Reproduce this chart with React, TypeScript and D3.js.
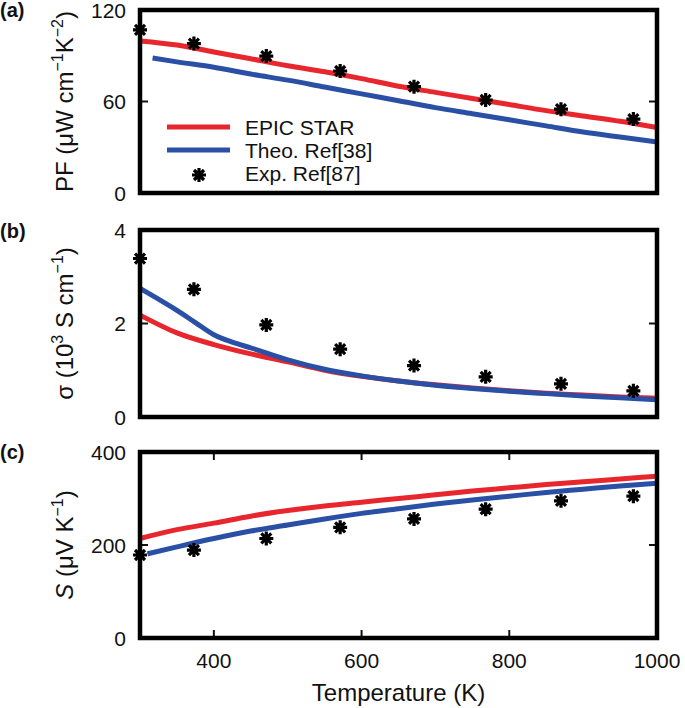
import React from "react";
import * as d3 from "d3";

// ---------- data ----------
const tempGrid = [300, 350, 400, 450, 500, 550, 600, 650, 700, 750, 800, 850, 900, 950, 1000];

// (a) power factor
const pfEpic = [99.7, 97, 92.5, 88, 83.5, 79.5, 75, 70, 66, 62, 58, 54, 50.5, 47, 43];
const pfTheoT = [317, 350, 400, 450, 500, 550, 600, 650, 700, 750, 800, 850, 900, 950, 1000];
const pfTheo = [88.5, 86, 82.5, 78, 74, 69.5, 65, 60.5, 56, 52, 48, 44, 40, 36.7, 33.5];

// (b) conductivity
const sigEpic = [2.18, 1.8, 1.55, 1.35, 1.18, 1.0, 0.87, 0.77, 0.69, 0.62, 0.56, 0.51, 0.47, 0.43, 0.4];
const sigTheoT = [300, 325, 350, 375, 400, 425, 450, 500, 550, 600, 650, 700, 750, 800, 850, 900, 950, 1000];
const sigTheo = [2.75, 2.52, 2.28, 2.02, 1.76, 1.6, 1.48, 1.22, 1.02, 0.88, 0.77, 0.68, 0.61, 0.55, 0.5, 0.45, 0.41, 0.37];

// (c) Seebeck
const sEpic = [214, 233, 247, 262, 274, 284, 292, 300, 308, 316, 323, 330, 336, 342, 348];
const sTheoT = [310, 350, 400, 450, 500, 550, 600, 650, 700, 750, 800, 850, 900, 950, 1000];
const sTheo = [181, 196, 214, 230, 243, 256, 268, 278, 288, 297, 305, 313, 320, 327, 333];

// experiment
const expT = [300, 373, 471, 571, 671, 768, 870, 968];
const pfExp = [107, 98, 89.8, 80, 69.7, 61, 55, 48.5];
const sigExp = [3.39, 2.73, 1.97, 1.45, 1.1, 0.86, 0.71, 0.56];
const sExp = [178.5, 189, 214, 238, 256, 277, 295, 305];

const xTicks = [400, 600, 800, 1000];
const xTickLabels = ["400", "600", "800", "1000"];
const pfTicks = [0, 60, 120];
const sigTicks = [0, 2, 4];
const sTicks = [0, 200, 400];

const legendNames = ["EPIC STAR", "Theo. Ref[38]", "Exp. Ref[87]"];

// ---------- style ----------
const RED = "#e8262d";
const BLUE = "#2a50a6";
const FONT = "'Liberation Sans', Arial, Helvetica, sans-serif";
const W = 685;
const H = 708;
const L = 140;
const R = 657;

const x = d3.scaleLinear().domain([300, 1000]).range([L, R]);

const panels = [
  { id: "a", top: 10, bottom: 193, max: 120, ticks: pfTicks, epic: pfEpic, epicT: tempGrid, theo: pfTheo, theoT: pfTheoT, exp: pfExp, xticks: false },
  { id: "b", top: 230, bottom: 417, max: 4, ticks: sigTicks, epic: sigEpic, epicT: tempGrid, theo: sigTheo, theoT: sigTheoT, exp: sigExp, xticks: false },
  { id: "c", top: 452, bottom: 638, max: 400, ticks: sTicks, epic: sEpic, epicT: tempGrid, theo: sTheo, theoT: sTheoT, exp: sExp, xticks: true },
];

const star = "M-7,0H7M0,-7V7M-5,-5L5,5M-5,5L5,-5";

function YLabel({ id, cy }: { id: string; cy: number }) {
  const sup = { fontSize: 16 } as any;
  let content: React.ReactNode;
  if (id === "a") {
    content = (
      <>
        PF (μW cm<tspan dy={-10} style={sup}>−1</tspan>
        <tspan dy={10}>K</tspan>
        <tspan dy={-10} style={sup}>−2</tspan>
        <tspan dy={10}>)</tspan>
      </>
    );
  } else if (id === "b") {
    content = (
      <>
        σ (10<tspan dy={-10} style={sup}>3</tspan>
        <tspan dy={10}> S cm</tspan>
        <tspan dy={-10} style={sup}>−1</tspan>
        <tspan dy={10}>)</tspan>
      </>
    );
  } else {
    content = (
      <>
        <tspan fontStyle="italic">S</tspan> (μV K<tspan dy={-10} style={sup}>−1</tspan>
        <tspan dy={10}>)</tspan>
      </>
    );
  }
  return (
    <text transform={`translate(73,${cy}) rotate(-90)`} textAnchor="middle" fontSize={24} fontFamily={FONT} fill="#111">
      {content}
    </text>
  );
}

export default function App() {
  return (
    <svg width={W} height={H} style={{ position: "absolute", left: 0, top: 0, background: "#fff" }}>
      {panels.map((p) => {
        const y = d3.scaleLinear().domain([0, p.max]).range([p.bottom, p.top]);
        const line = d3.line<[number, number]>().x((d) => x(d[0])).y((d) => y(d[1])).curve(d3.curveMonotoneX);
        const epicPts = p.epicT.map((t, i) => [t, p.epic[i]] as [number, number]);
        const theoPts = p.theoT.map((t, i) => [t, p.theo[i]] as [number, number]);
        const cy = (p.top + p.bottom) / 2;
        return (
          <g key={p.id}>
            <text x={0} y={p.id === "a" ? 17 : p.id === "b" ? 238 : 459} fontSize={20} fontWeight="bold" fontFamily={FONT} fill="#111">
              ({p.id})
            </text>
            <YLabel id={p.id} cy={cy} />
            {p.ticks.map((t) => (
              <text key={t} x={126} y={y(t) + 7.5} textAnchor="end" fontSize={21} fontFamily={FONT} fill="#111">
                {t}
              </text>
            ))}
            {p.ticks.slice(1, -1).map((t) => (
              <g key={"yt" + t}>
                <line x1={L} x2={L + 8} y1={y(t)} y2={y(t)} stroke="#111" strokeWidth={2} />
                <line x1={R - 8} x2={R} y1={y(t)} y2={y(t)} stroke="#111" strokeWidth={2} />
              </g>
            ))}
            {p.xticks &&
              xTicks.slice(0, -1).map((t) => (
                <g key={"xt" + t}>
                  <line x1={x(t)} x2={x(t)} y1={p.bottom} y2={p.bottom - 8} stroke="#111" strokeWidth={2} />
                  <line x1={x(t)} x2={x(t)} y1={p.top} y2={p.top + 8} stroke="#111" strokeWidth={2} />
                </g>
              ))}
            <path d={line(epicPts) || ""} fill="none" stroke={RED} strokeWidth={5} />
            <path d={line(theoPts) || ""} fill="none" stroke={BLUE} strokeWidth={5} />
            <rect x={L} y={p.top} width={R - L} height={p.bottom - p.top} fill="none" stroke="#000" strokeWidth={4.5} />
            {expT.map((t, i) => (
              <path key={i} d={star} transform={`translate(${x(t)},${y(p.exp[i])})`} stroke="#000" strokeWidth={3.2} fill="none" />
            ))}
            {p.id === "a" && (
              <g fontFamily={FONT} fontSize={21} fill="#111">
                <line x1={167} x2={230} y1={127} y2={127} stroke={RED} strokeWidth={5} />
                <line x1={167} x2={230} y1={150} y2={150} stroke={BLUE} strokeWidth={5} />
                <path d={star} transform="translate(199,175)" stroke="#000" strokeWidth={3.2} fill="none" />
                <text x={245} y={135}>{legendNames[0]}</text>
                <text x={245} y={158}>{legendNames[1]}</text>
                <text x={245} y={181}>{legendNames[2]}</text>
              </g>
            )}
          </g>
        );
      })}
      {xTicks.map((t, i) => (
        <text key={t} x={x(t)} y={668} textAnchor="middle" fontSize={21} fontFamily={FONT} fill="#111">
          {xTickLabels[i]}
        </text>
      ))}
      <text x={(L + R) / 2} y={701} textAnchor="middle" fontSize={24} fontFamily={FONT} fill="#111">
        Temperature (K)
      </text>
    </svg>
  );
}
